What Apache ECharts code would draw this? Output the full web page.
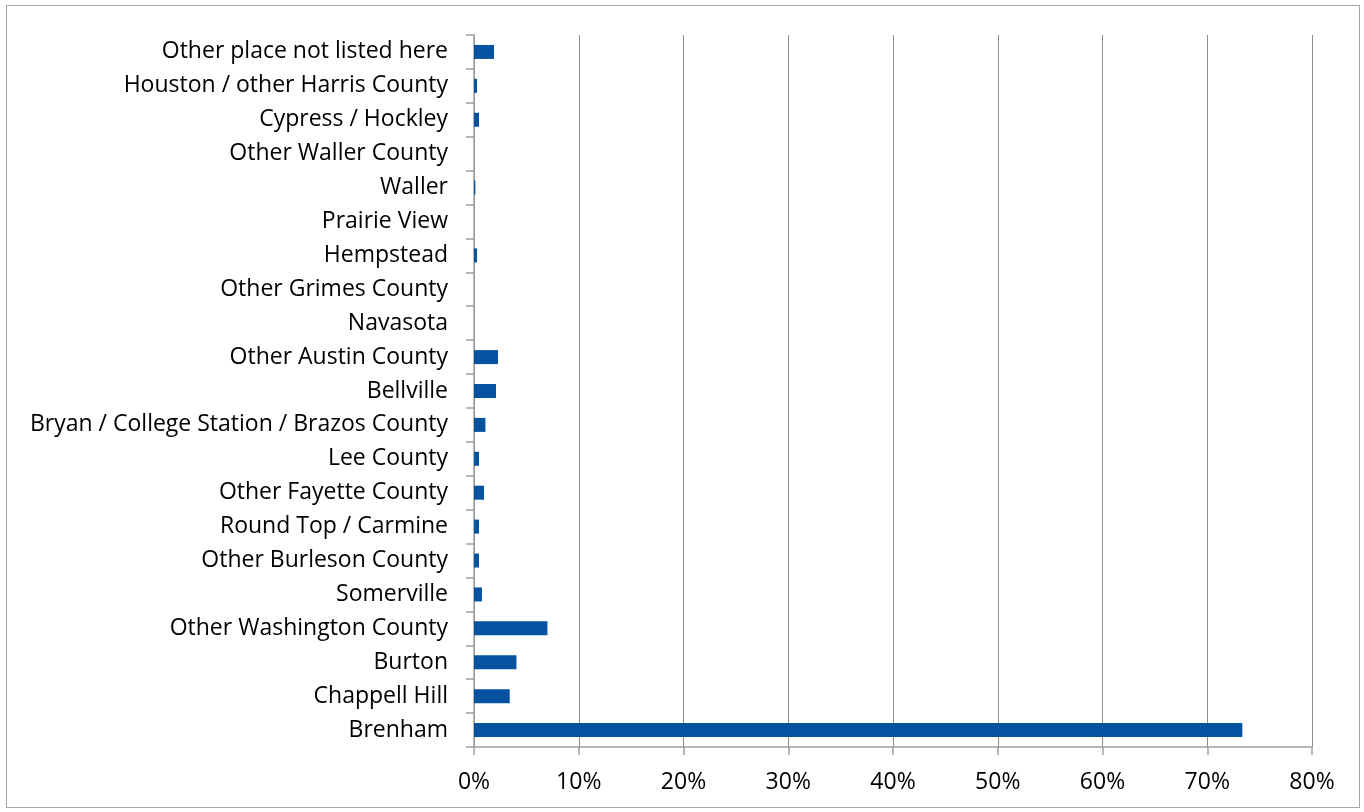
<!DOCTYPE html>
<html>
<head>
<meta charset="utf-8">
<script src="https://cdn.jsdelivr.net/npm/echarts@6/dist/echarts.min.js"></script>
<style>
  html, body { margin: 0; padding: 0; background: #fff; }
  #chart { width: 1364px; height: 812px; }
  #frame { position: absolute; left: 6px; top: 5px; width: 1354px; height: 803px; border: 1px solid #a6a6a6; box-sizing: border-box; pointer-events: none; }
</style>
</head>
<body>
<div id="chart"></div>
<div id="frame"></div>
<script>
// categories bottom-to-top, as the category axis draws them
const places = [
  "Brenham",
  "Chappell Hill",
  "Burton",
  "Other Washington County",
  "Somerville",
  "Other Burleson County",
  "Round Top / Carmine",
  "Other Fayette County",
  "Lee County",
  "Bryan / College Station / Brazos County",
  "Bellville",
  "Other Austin County",
  "Navasota",
  "Other Grimes County",
  "Hempstead",
  "Prairie View",
  "Waller",
  "Other Waller County",
  "Cypress / Hockley",
  "Houston / other Harris County",
  "Other place not listed here",
];

// share of respondents, percent
const shares = [
  73.35, 3.41, 4.05, 7.01, 0.76, 0.48, 0.48, 0.96, 0.48, 1.09,
  2.1, 2.29, 0, 0, 0.29, 0, 0.13, 0, 0.48, 0.29, 1.91,
];

const xTicks = [0, 10, 20, 30, 40, 50, 60, 70, 80];

const chart = echarts.init(document.querySelector("#chart"));
const labelFont = "Open Sans, Liberation Sans, sans-serif";

chart.setOption({
  animation: false,
  grid: { left: 474, right: 52, top: 35, bottom: 65 },
  xAxis: {
    type: "value",
    min: xTicks[0],
    max: xTicks[xTicks.length - 1],
    interval: 10,
    axisLine: { show: true, lineStyle: { color: "#a0a0a0", width: 1.5 } },
    axisTick: { show: true, length: 8, lineStyle: { color: "#a0a0a0", width: 1.5 } },
    splitLine: { show: true, lineStyle: { color: "#8c8c8c", width: 1 } },
    axisLabel: {
      formatter: (v) => `${v}%`,
      color: "#000",
      fontSize: 23,
      fontFamily: labelFont,
      margin: 24,
    },
  },
  yAxis: {
    type: "category",
    data: places,
    axisLine: { show: true, lineStyle: { color: "#a0a0a0", width: 1.5 } },
    axisTick: { show: true, length: 8, lineStyle: { color: "#a0a0a0", width: 1.5 } },
    axisLabel: {
      color: "#000",
      fontSize: 23,
      fontFamily: labelFont,
      margin: 26,
    },
  },
  series: [
    {
      type: "bar",
      data: shares,
      barWidth: 14,
      itemStyle: { color: "#0553a0" },
    },
  ],
});
</script>
</body>
</html>
